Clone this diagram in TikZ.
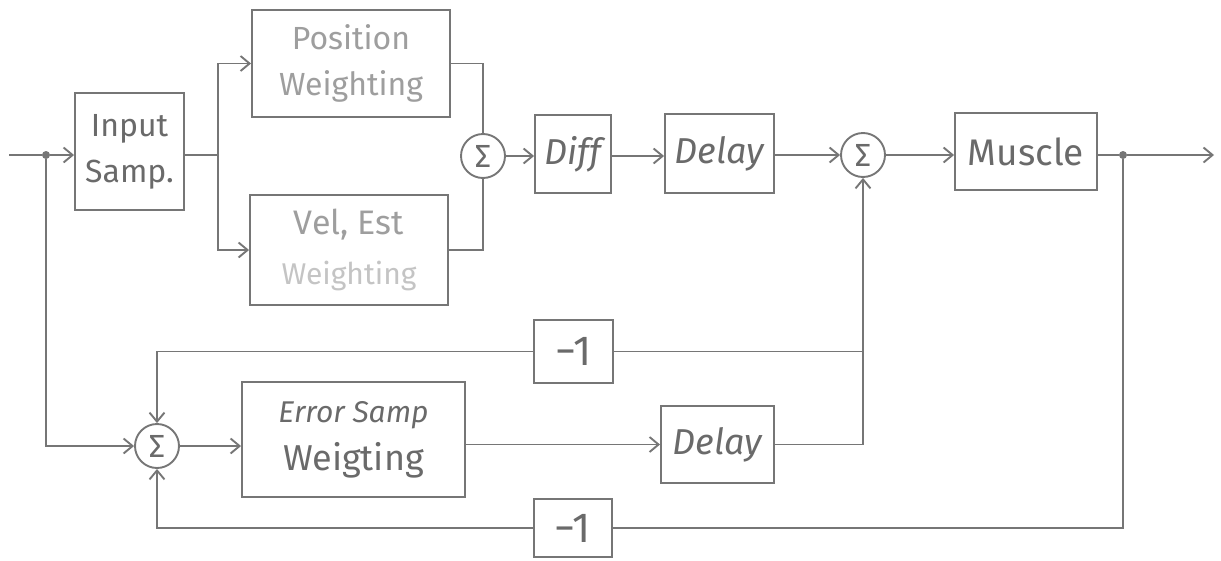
\documentclass[tikz,border=0pt]{standalone}
\usepackage{fontspec}
\setmainfont{Fira Sans}
\usetikzlibrary{arrows.meta,calc}
\definecolor{ink}{HTML}{767676}
\definecolor{txt}{HTML}{6A6A6A}
\definecolor{pale}{HTML}{9E9E9E}
\definecolor{faint}{HTML}{C4C4C4}
\begin{document}
\begin{tikzpicture}[x=1pt,y=-1pt,
  line/.style={draw=ink, line width=1.9pt},
  arr/.style={line, -{Straight Barb[length=9pt,width=15pt,line width=1.9pt]}},
  blk/.style={draw=ink, line width=1.9pt, fill=white, inner sep=0pt, align=center, text=txt},
  sumnode/.style={draw=ink, line width=1.9pt, circle, minimum size=44pt, inner sep=0pt,
                  text=txt, font=\fontsize{32}{32}\selectfont},
  dotnode/.style={circle, fill=ink, minimum size=8pt, inner sep=0pt},
]
\useasboundingbox (0,0) rectangle (1221,560);

% forward path blocks
\node[blk, minimum width=109pt, minimum height=117pt, font=\fontsize{32}{46}\selectfont]
  (inp) at (129.5,151.5) {Input\\Samp.};
\node[blk, minimum width=198pt, minimum height=107pt, text=pale, font=\fontsize{32}{46}\selectfont]
  (pos) at (351,63.5) {Position\\Weighting};
\node[blk, minimum width=198pt, minimum height=110pt, text=pale, font=\fontsize{34}{50}\selectfont]
  (vel) at (349,250) {Vel, Est\\{\color{faint}\fontsize{30}{30}\selectfont Weighting}};
\node[sumnode] (s1) at (483,156) {Σ};
\node[blk, minimum width=76pt, minimum height=78pt, font=\itshape\fontsize{36}{36}\selectfont]
  (diff) at (573,154) {Diff};
\node[blk, minimum width=109pt, minimum height=79pt, font=\itshape\fontsize{36}{36}\selectfont]
  (dl1) at (719.5,153.5) {Delay};
\node[sumnode] (s2) at (863,155) {Σ};
\node[blk, minimum width=142pt, minimum height=77pt, font=\fontsize{37}{37}\selectfont]
  (mus) at (1026,151.5) {Muscle};

% junctions and free ends
\coordinate (in) at (9,155);
\node[dotnode] (j1) at (46,155) {};
\coordinate (br) at (218,155);
\node[dotnode] (j2) at (1123,155) {};
\coordinate (out) at (1214,155);

% error loop blocks
\node[sumnode] (s3) at (157,446) {Σ};
\node[blk, minimum width=223pt, minimum height=115pt, font=\fontsize{36}{48}\selectfont]
  (err) at (353.5,439.5) {{\itshape\fontsize{30}{30}\selectfont Error Samp}\\Weigting};
\node[blk, minimum width=113pt, minimum height=77pt, font=\itshape\fontsize{36}{36}\selectfont]
  (dl2) at (717.5,444.5) {Delay};
\node[blk, minimum width=79pt, minimum height=63pt, font=\fontsize{42}{42}\selectfont]
  (m1t) at (573.5,351.5) {−1};
\node[blk, minimum width=78pt, minimum height=58pt, font=\fontsize{42}{42}\selectfont]
  (m1b) at (573,528) {−1};

% forward path connectors
\draw[line] (in) -- (j1);
\draw[arr] (j1) -- (inp.west |- j1);
\draw[line] (inp.east |- br) -- (br);
\draw[arr] (br) |- (pos.west);
\draw[arr] (br) |- (vel.west);
\draw[line] (pos.east) -| (s1.north);
\draw[line] (vel.east) -| (s1.south);
\draw[arr] (s1.east) -- (diff.west |- s1);
\draw[arr] (diff.east |- s1) -- (dl1.west |- s1);
\draw[arr] (dl1.east |- s2) -- (s2.west);
\draw[arr] (s2.east) -- (mus.west |- s2);
\draw[line] (mus.east |- j2) -- (j2);
\draw[arr] (j2) -- (out);

% error loop connectors
\draw[arr] (j1) |- (s3.west);
\draw[arr] (s3.east) -- (err.west |- s3);
\draw[arr] (err.east |- dl2) -- (dl2.west);
\draw[arr] (dl2.east) -| (s2.south);
\draw[line] (m1t.east) -- (m1t.east -| s2);
\draw[arr] (m1t.west) -| (s3.north);
\draw[line] (j2) |- (m1b.east);
\draw[arr] (m1b.west) -| (s3.south);
\end{tikzpicture}
\end{document}
